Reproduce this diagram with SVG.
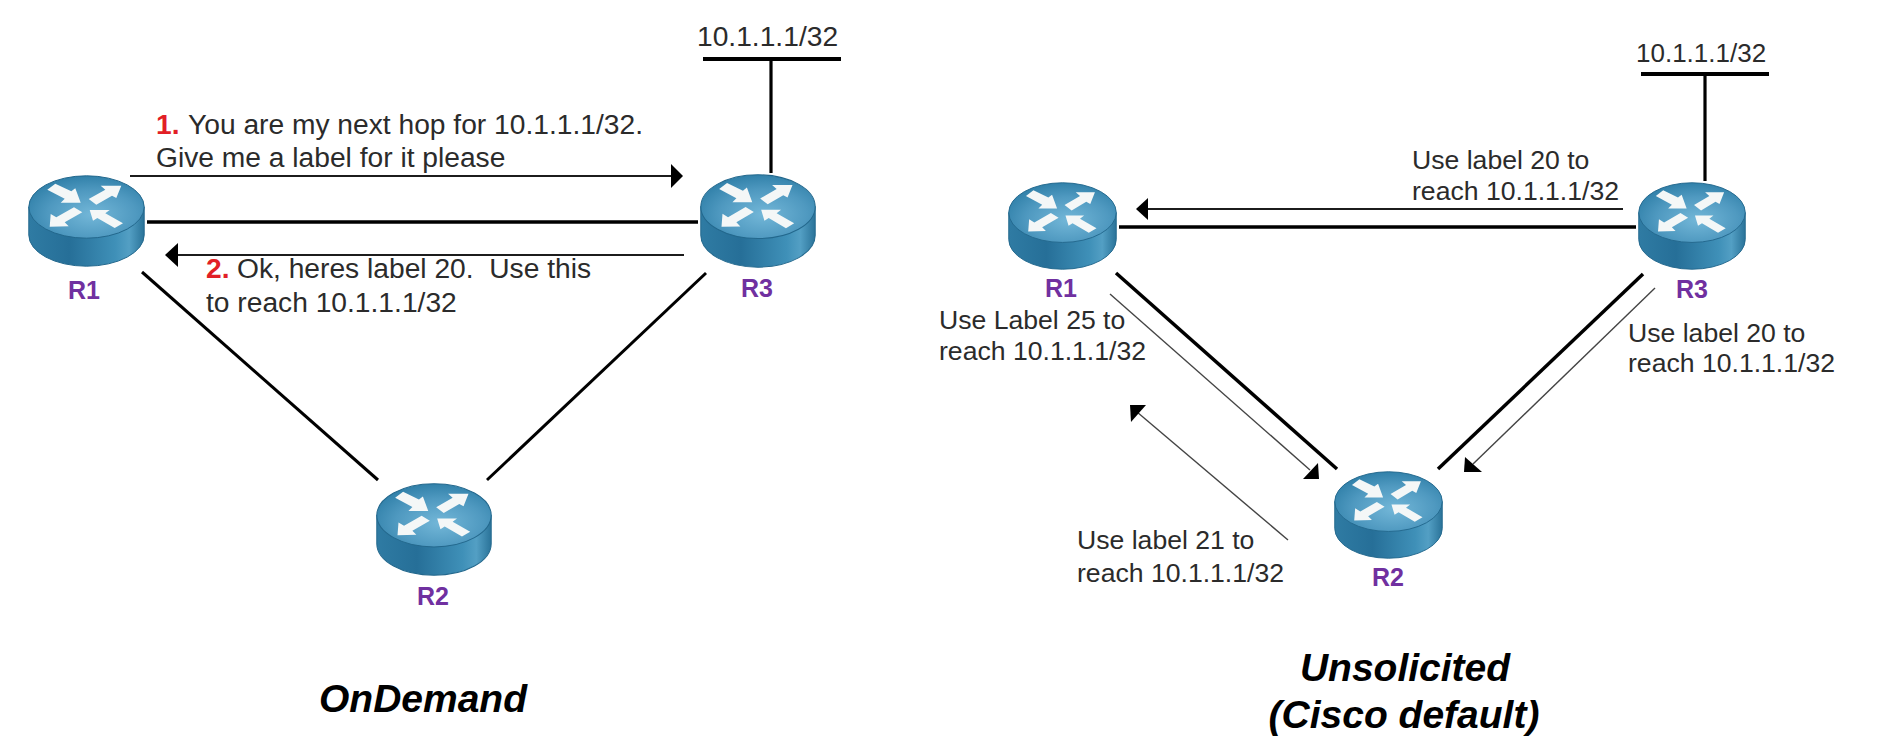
<svg xmlns="http://www.w3.org/2000/svg" width="1882" height="754" viewBox="0 0 1882 754">
<style>
text{font-family:"Liberation Sans",Arial,sans-serif;white-space:pre}
.t{font-size:28.2px;fill:#2b2b2b}
.s{font-size:26.6px;fill:#2b2b2b}
.n{font-size:25px;font-weight:700;fill:#7030a0;text-anchor:middle}
.r{font-weight:700;fill:#e21f26}
.h{font-size:39px;font-weight:700;font-style:italic;fill:#000;text-anchor:middle}
.link{stroke:#000;stroke-width:3.5;fill:none}
.bar{stroke:#000;stroke-width:4.2;fill:none}
.thin{stroke:#1c1c1c;stroke-width:2;fill:none}
.hair{stroke:#444;stroke-width:1.4;fill:none}
.head{fill:#000;stroke:none}
</style>
<defs>
<linearGradient id="side" x1="0" x2="1" y1="0" y2="0">
<stop offset="0" stop-color="#2f7ba3"/><stop offset=".35" stop-color="#266f98"/><stop offset=".75" stop-color="#3f90b8"/><stop offset=".87" stop-color="#539fc4"/><stop offset="1" stop-color="#2a7399"/>
</linearGradient>
<radialGradient id="top" cx=".55" cy=".62" r=".64">
<stop offset="0" stop-color="#73b7d8"/><stop offset=".6" stop-color="#4f99c0"/><stop offset="1" stop-color="#2f7fa8"/>
</radialGradient>
<symbol id="router" viewBox="0 0 117 92" preserveAspectRatio="none">
<path d="M.8,32V60A57.7,31.2 0 0 0 116.2,60V32Z" fill="url(#side)" stroke="#23688d" stroke-width="1"/>
<ellipse cx="58.5" cy="32" rx="57.7" ry="31.2" fill="url(#top)" stroke="#23688d" stroke-width="1"/>
<g fill="#f4f7f7">
<polygon points="19.3,14.7 27.3,8.7 43.3,16.3 47.3,13.3 52.7,27.7 32.7,27.7 36.7,23.7"/>
<polygon points="60.7,24 68.3,29.7 84,20.7 88.3,23 93.3,10.7 72.7,10.7 77.3,14.7"/>
<polygon points="46,32.3 54.3,37.3 36.7,47.3 40.7,51.3 21.7,51.7 22.7,39 28.3,42.3"/>
<polygon points="61.7,35 81.7,35 77.3,38.3 95,48.3 86.7,53 69.3,43 65,45.7"/>
</g>
</symbol>
</defs>
<rect width="1882" height="754" fill="#fff"/>
<g id="connectors">
<g id="connectors-left">
<line class="bar" x1="703" y1="59" x2="841" y2="59"/>
<line class="link" x1="771" y1="59" x2="771" y2="173" style="stroke-width:3.2"/>
<line class="thin" x1="130" y1="176" x2="673" y2="176"/>
<polygon class="head" points="683,176 671,164 671,188"/>
<line class="link" x1="147" y1="222" x2="698" y2="222"/>
<line class="thin" x1="684" y1="255" x2="176" y2="255"/>
<polygon class="head" points="165,255 178,243 178,267"/>
<line class="link" x1="142" y1="272" x2="378" y2="480" style="stroke-width:3"/>
<line class="link" x1="487" y1="480" x2="706" y2="273" style="stroke-width:3"/>
</g>
<g id="connectors-right">
<line class="bar" x1="1641" y1="74" x2="1769" y2="74"/>
<line class="link" x1="1705" y1="74" x2="1705" y2="181" style="stroke-width:3.2"/>
<line class="thin" x1="1623" y1="209" x2="1146" y2="209"/>
<polygon class="head" points="1136,209 1148,198 1148,220"/>
<line class="link" x1="1119" y1="227" x2="1636" y2="227"/>
<line class="link" x1="1116" y1="273" x2="1337" y2="469"/>
<line class="hair" x1="1110" y1="294" x2="1310" y2="470"/>
<polygon class="head" points="1319,479 1318,463 1303,479"/>
<line class="hair" x1="1288" y1="540" x2="1137" y2="412"/>
<polygon class="head" points="1130,405 1146,405 1131,422"/>
<line class="link" x1="1643" y1="274" x2="1438" y2="469"/>
<line class="hair" x1="1655" y1="288" x2="1473" y2="464"/>
<polygon class="head" points="1464,472 1465,457 1482,472"/>
</g>
</g>
<g id="left-R1"><use href="#router" x="28" y="175" width="117" height="92"/><text class="n" x="84" y="299">R1</text></g>
<g id="left-R3"><use href="#router" x="700" y="174" width="116" height="94"/><text class="n" x="757" y="297">R3</text></g>
<g id="left-R2"><use href="#router" x="376" y="483" width="116" height="93"/><text class="n" x="433" y="605">R2</text></g>
<g id="right-R1"><use href="#router" x="1008" y="182" width="109" height="88"/><text class="n" x="1061" y="297">R1</text></g>
<g id="right-R3"><use href="#router" x="1638" y="182" width="108" height="88"/><text class="n" x="1692" y="298">R3</text></g>
<g id="right-R2"><use href="#router" x="1334" y="471" width="109" height="88"/><text class="n" x="1388" y="586">R2</text></g>
<g id="labels-left">
<text class="t" x="697" y="46">10.1.1.1/32</text>
<text class="t" x="156" y="134"><tspan class="r">1.</tspan><tspan x="188">You are my next hop for 10.1.1.1/32.</tspan></text>
<text class="t" x="156" y="167">Give me a label for it please</text>
<text class="t" x="206" y="278"><tspan class="r">2.</tspan><tspan x="237">Ok, heres label 20.  Use this</tspan></text>
<text class="t" x="206" y="312">to reach 10.1.1.1/32</text>
<text class="h" x="423" y="712">OnDemand</text>
</g>
<g id="labels-right">
<text class="s" x="1636" y="62" style="font-size:26px">10.1.1.1/32</text>
<text class="s" x="1412" y="169">Use label 20 to</text>
<text class="s" x="1412" y="200">reach 10.1.1.1/32</text>
<text class="s" x="1628" y="342">Use label 20 to</text>
<text class="s" x="1628" y="372">reach 10.1.1.1/32</text>
<text class="s" x="939" y="329">Use Label 25 to</text>
<text class="s" x="939" y="360">reach 10.1.1.1/32</text>
<text class="s" x="1077" y="549">Use label 21 to</text>
<text class="s" x="1077" y="582">reach 10.1.1.1/32</text>
<text class="h" x="1405" y="681">Unsolicited</text>
<text class="h" x="1404" y="728">(Cisco default)</text>
</g>
</svg>
